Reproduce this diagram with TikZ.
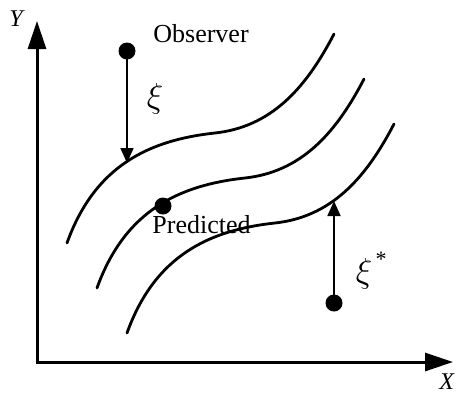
\documentclass[tikz,border=0pt]{standalone}
\usepackage{fontspec}
\setmainfont{Liberation Serif}
\usetikzlibrary{arrows.meta}
\tikzset{
  curve/.style={line width=1.4pt, line cap=round},
  axis/.style={line width=1.5pt, -{Triangle[length=14pt,width=9pt]}},
  errarrow/.style={line width=0.9pt, -{Triangle[length=7.5pt,width=6.5pt]}},
  dot/.style={circle, fill=black, inner sep=0pt, minimum size=8.5pt},
  lbl/.style={font=\fontsize{13}{15}\selectfont, inner sep=0pt},
  axlbl/.style={font=\fontsize{12}{14}\selectfont\itshape, inner sep=0pt},
  greekbig/.style={font=\fontsize{18}{20}\selectfont, inner sep=0pt},
  greeksmall/.style={font=\fontsize{16}{18}\selectfont, inner sep=0pt}
}
\begin{document}
\begin{tikzpicture}[x=0.5pt,y=-0.5pt]
\useasboundingbox (0,0) rectangle (456,392);
% axes
\coordinate (O) at (37,362);
\coordinate (Ytip) at (37,21);
\coordinate (Xtip) at (453,362);
\draw[axis] ([yshift=-0.75pt]O) -- (Ytip);
\draw[axis] ([xshift=-0.75pt]O) -- (Xtip);
\node[axlbl, anchor=base] (ylab) at (16,26) {Y};
\node[axlbl, anchor=base west] (xlab) at (439,389) {X};
% curves
\foreach \dx/\dy in {0/0,30/45,60/90}{
  \begin{scope}[shift={(\dx,\dy)}]
  \draw[curve] (67,243) .. controls (95,165) and (150,140) .. (215,133)
               .. controls (270,127) and (305,90) .. (334,34);
  \end{scope}
}
% observer
\node[dot] (obs) at (127,51) {};
\coordinate (obsfoot) at (127,163);
\draw[errarrow] (obs.center) -- (obsfoot);
\node[lbl, anchor=base west] (obslab) at (153,42) {Observer};
\node[greekbig] (xi) at (155,99) {$\xi$};
% predicted
\node[dot] (pred) at (163,206) {};
\node[lbl, anchor=base west] (predlab) at (152,233) {Predicted};
% lower point
\node[dot] (low) at (334,303) {};
\coordinate (lowfoot) at (334,201);
\draw[errarrow] (low.center) -- (lowfoot);
\node[greeksmall] (xis) at (364,274) {$\xi$};
\node[font=\fontsize{11}{13}\selectfont, inner sep=0pt] (star) at (381,259) {*};
\end{tikzpicture}
\end{document}
